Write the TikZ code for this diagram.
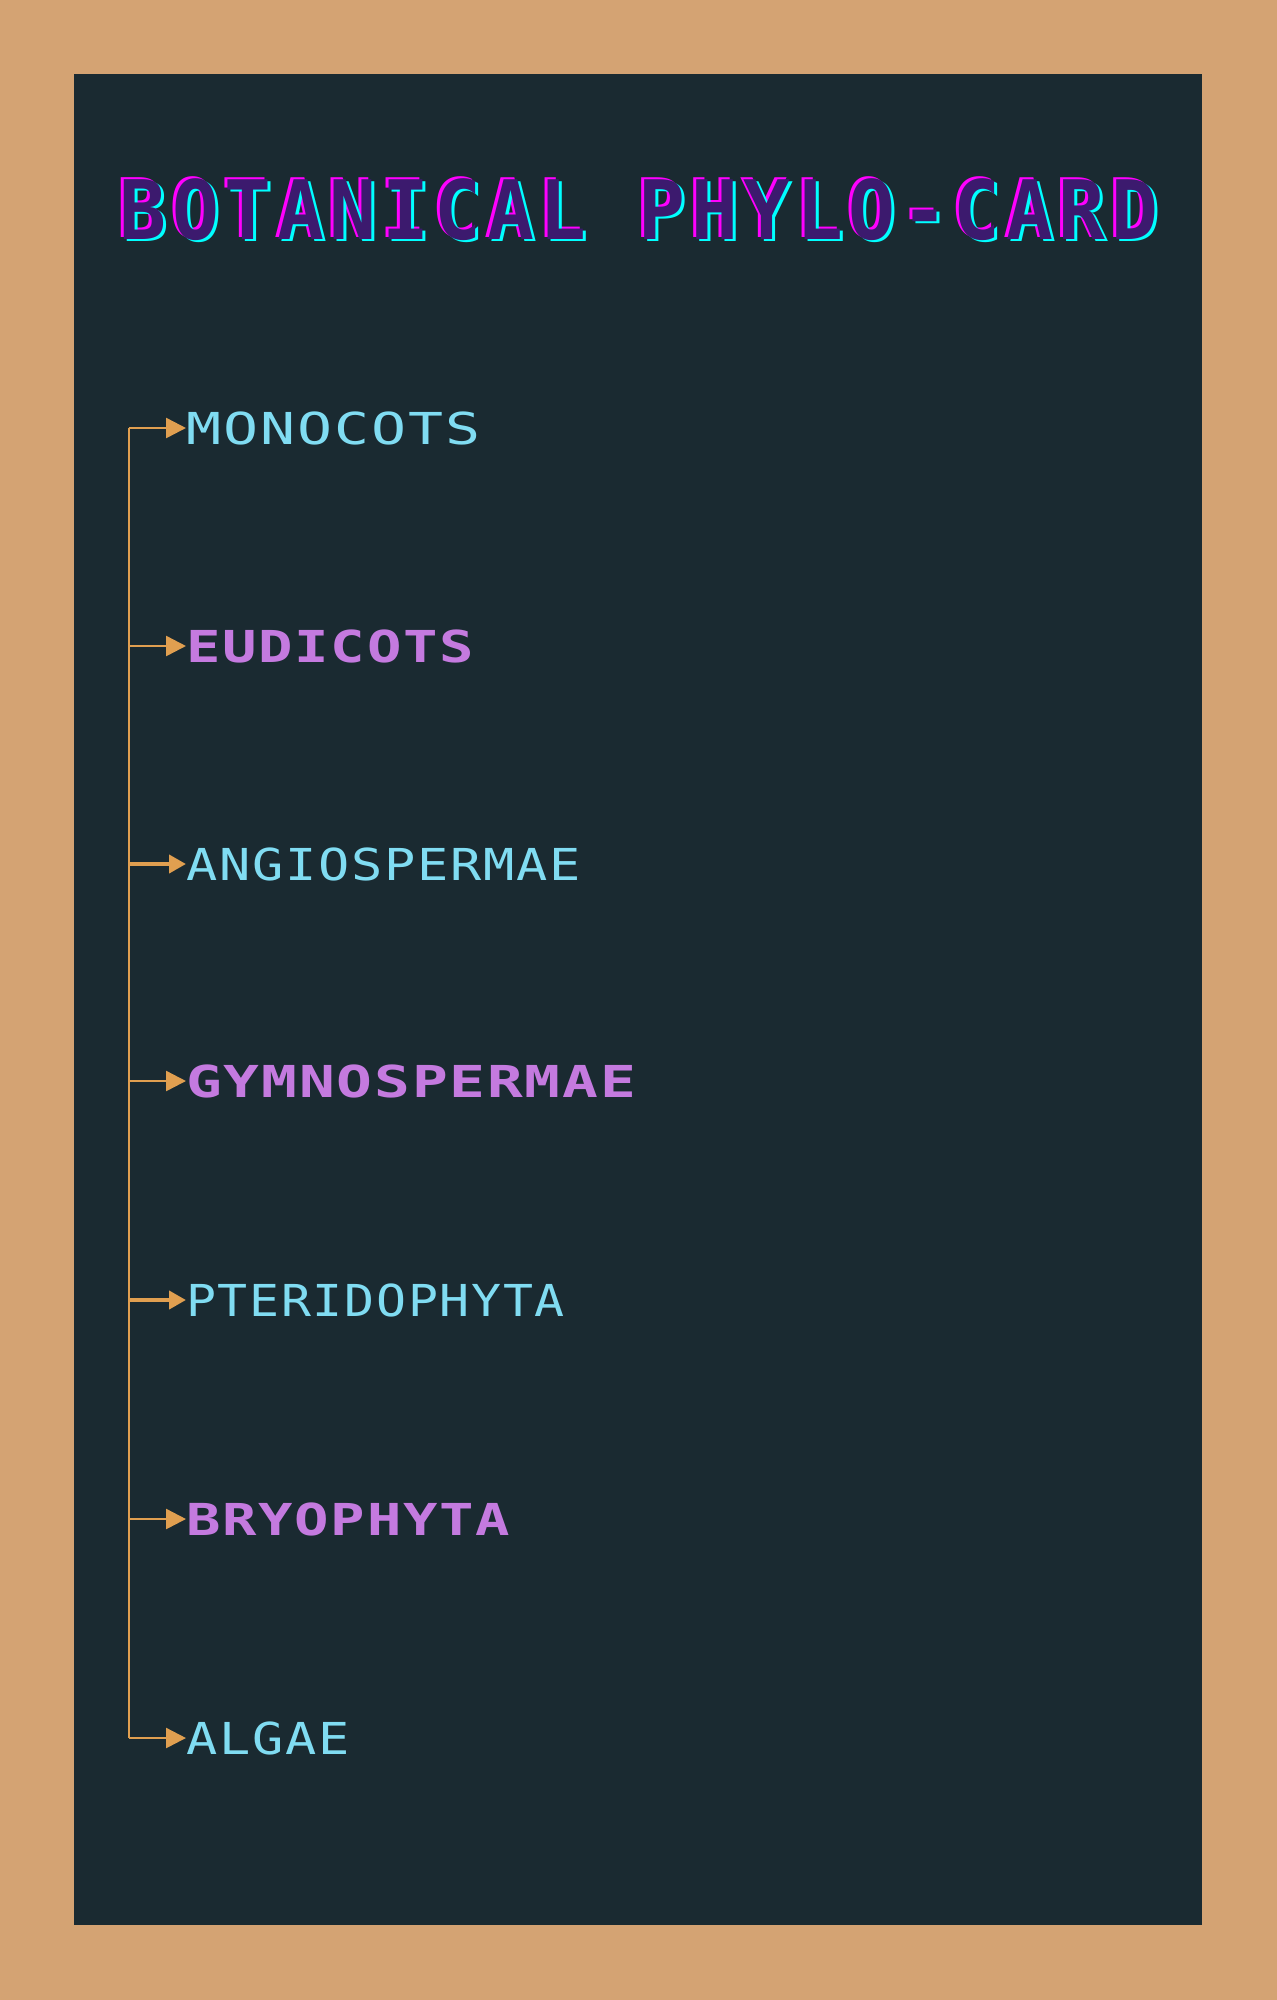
\documentclass[tikz,border=0pt]{standalone}
\usepackage{fontspec}
\usetikzlibrary{arrows.meta}
\newfontfamily\titlefont[FakeStretch=0.95,LetterSpace=6.8]{DejaVu Sans Mono Bold}
\newfontfamily\labfont[FakeStretch=1.18,LetterSpace=4]{DejaVu Sans Mono}
\newfontfamily\labfontb[FakeStretch=1.3,LetterSpace=4]{DejaVu Sans Mono Bold}
\definecolor{tan}{HTML}{D4A373}
\definecolor{panel}{HTML}{1A2A31}
\definecolor{cyantext}{HTML}{80DCF2}
\definecolor{violet}{HTML}{C47ADF}
\definecolor{branch}{HTML}{E09F50}
\definecolor{tpurple}{HTML}{3C1A6E}
\definecolor{gmag}{HTML}{FF00FF}
\definecolor{gcyan}{HTML}{00FFFF}
\newcommand{\glitchtext}[4]{% #1 main colour, #2 text, #3 shadow dx, #4 shadow dy
  \makebox[0pt][l]{\hspace*{-#3}\raisebox{#4}{\textcolor{gmag}{#2}}}%
  \makebox[0pt][l]{\hspace*{#3}\raisebox{-#4}{\textcolor{gcyan}{#2}}}%
  \textcolor{#1}{#2}}
\tikzset{
  lab/.style={anchor=west, inner sep=0pt, text height=32pt, text depth=0pt, text=cyantext, font=\labfont\fontsize{44}{44}\selectfont},
  labb/.style={anchor=west, inner sep=0pt, text height=32pt, text depth=0pt, text=violet, font=\labfontb\fontsize{44}{44}\selectfont},
  ttl/.style={anchor=base, inner sep=0pt, font=\titlefont\fontsize{82}{82}\selectfont},
  thin branch/.style={draw=branch, line width=2.5pt, -{Triangle[length=20pt,width=20pt]}},
  thick branch/.style={draw=branch, line width=4pt, -{Triangle[length=17pt,width=18pt]}},
}
\begin{document}
\begin{tikzpicture}[x=1pt,y=-1pt]
\fill[tan] (0,0) rectangle (1277,2000);
\useasboundingbox (0,0) rectangle (1277,2000);
\fill[panel] (74,74) rectangle (1202,1925);
% title
\node[ttl] (title) at (639,239) {\glitchtext{tpurple}{BOTANICAL PHYLO-CARD}{3pt}{2pt}};
% junctions
\coordinate (j1) at (129,428);
\coordinate (j2) at (129,646);
\coordinate (j3) at (129,864);
\coordinate (j4) at (129,1081);
\coordinate (j5) at (129,1300);
\coordinate (j6) at (129,1519);
\coordinate (j7) at (129,1738);
% labels
\node[lab, xscale=1.12, transform shape]  (l1) at (186,428)  {MONOCOTS};
\node[labb] (l2) at (186,646)  {EUDICOTS};
\node[lab]  (l3) at (186,864)  {ANGIOSPERMAE};
\node[labb, xscale=1.04, transform shape] (l4) at (186,1081) {GYMNOSPERMAE};
\node[lab, xscale=0.96, transform shape]  (l5) at (186,1300) {PTERIDOPHYTA};
\node[labb] (l6) at (186,1519) {BRYOPHYTA};
\node[lab]  (l7) at (186,1738) {ALGAE};
% trunk and branches
\draw[branch, line width=2.5pt] (j1) -- (j7);
\draw[thin branch] (j1) -- (l1.west);
\draw[thin branch] (j2) -- (l2.west);
\draw[thick branch] (j3) -- (l3.west);
\draw[thin branch] (j4) -- (l4.west);
\draw[thick branch] (j5) -- (l5.west);
\draw[thin branch] (j6) -- (l6.west);
\draw[thin branch] (j7) -- (l7.west);
\end{tikzpicture}
\end{document}
